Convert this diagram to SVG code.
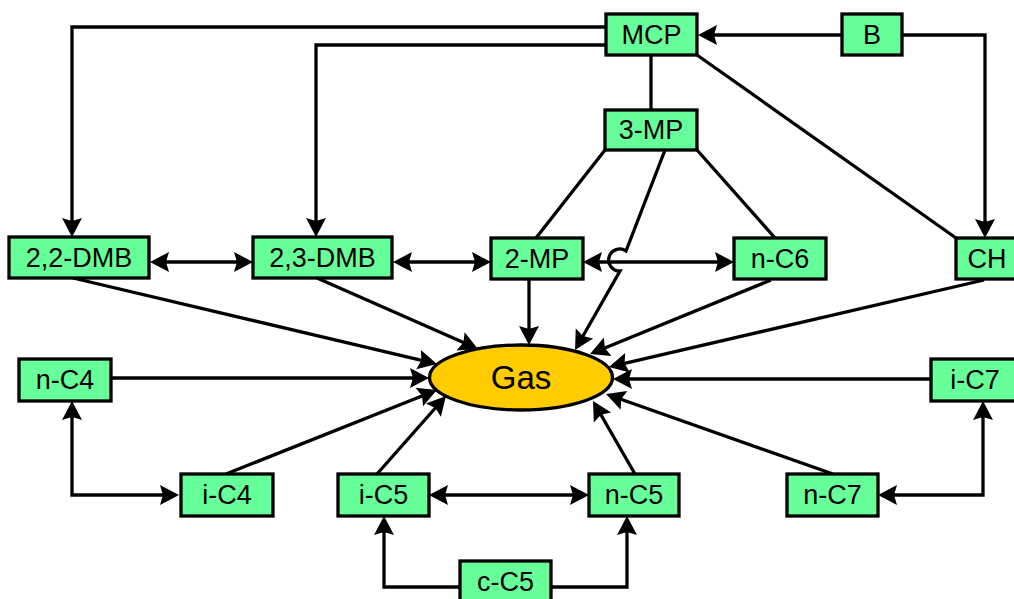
<svg xmlns="http://www.w3.org/2000/svg" width="1014" height="599" viewBox="0 0 1014 599">
<style>
.node rect{fill:#66FF99;stroke:#000;stroke-width:3.3}
.gas ellipse{fill:#FFCC00;stroke:#000;stroke-width:3.3}
text{font-family:"Liberation Sans",Arial,sans-serif;font-size:27px;text-anchor:middle;fill:#000}
.gas text{font-size:33px}
.c path{fill:none;stroke:#000;stroke-width:3.3}
.c .a{marker-end:url(#ah)}
.c .aa{marker-start:url(#ah);marker-end:url(#ah)}
</style>
<defs>
<marker id="ah" viewBox="-14 -11 21 22" refX="0" refY="0" markerWidth="21" markerHeight="22" markerUnits="userSpaceOnUse" orient="auto-start-reverse">
<path d="M6,0 L-13,-10 L-10,0 L-13,10 Z" fill="#000"/>
</marker>
</defs>
<rect width="1014" height="599" fill="#fff"/>
<g id="connectors" class="c">
<path class="a" d="M842,35 H704"/>
<path class="a" d="M902,35 H985 V232"/>
<path class="a" d="M606,27 H72 V231"/>
<path class="a" d="M606,45 H316 V231"/>
<path d="M651,55 V110"/>
<path d="M697,55 L956,238"/>
<path d="M605,150 L536,238"/>
<path d="M697,150 L775,238"/>
<path class="a" d="M665,150 L626,251 A11,11 0 1,0 620,271 L578,344.8"/>
<path class="aa" d="M156,262 H247"/>
<path class="aa" d="M399,262 H485"/>
<path class="aa" d="M589,262 H728"/>
<path class="a" d="M529,280 V339"/>
<path class="a" d="M73,278 L431.2,362.6"/>
<path class="a" d="M317,278 L472.5,346.6"/>
<path class="a" d="M771,280 L595.6,351.7"/>
<path class="a" d="M984,280 L614.8,365.6"/>
<path class="a" d="M111,378 H423"/>
<path class="a" d="M931,379 H619"/>
<path class="a" d="M226,474 L431.4,392.2"/>
<path class="a" d="M377,474 L442,400.5"/>
<path class="a" d="M635,474 L596,406.2"/>
<path class="a" d="M833,474 L611.7,396"/>
<path class="aa" d="M72,407 V495 H173"/>
<path class="aa" d="M435,495 H583"/>
<path class="a" d="M460,587 H384 V522"/>
<path class="a" d="M551,587 H627 V522"/>
<path class="aa" d="M884,495 H983 V407"/>
</g>
<g id="MCP" class="node"><rect x="606" y="14" width="91" height="41"/><text x="651.5" y="43.5">MCP</text></g>
<g id="B" class="node"><rect x="842" y="14" width="60" height="41"/><text x="872" y="43.5">B</text></g>
<g id="3-MP" class="node"><rect x="605" y="110" width="92" height="40"/><text x="651" y="139">3-MP</text></g>
<g id="2,2-DMB" class="node"><rect x="9" y="237" width="140" height="41"/><text x="79" y="266.5">2,2-DMB</text></g>
<g id="2,3-DMB" class="node"><rect x="253" y="237" width="139" height="41"/><text x="322.5" y="266.5">2,3-DMB</text></g>
<g id="2-MP" class="node"><rect x="491" y="238" width="92" height="41"/><text x="537" y="267.5">2-MP</text></g>
<g id="n-C6" class="node"><rect x="734" y="238" width="92" height="41"/><text x="780" y="267.5">n-C6</text></g>
<g id="CH" class="node"><rect x="956" y="238" width="62" height="41"/><text x="987" y="267.5">CH</text></g>
<g id="n-C4" class="node"><rect x="19" y="359" width="92" height="42"/><text x="65" y="389">n-C4</text></g>
<g id="i-C7" class="node"><rect x="931" y="359" width="88" height="42"/><text x="975" y="389">i-C7</text></g>
<g id="Gas" class="gas"><ellipse cx="521" cy="377.5" rx="91.5" ry="32.5"/><text x="521" y="389">Gas</text></g>
<g id="i-C4" class="node"><rect x="181" y="474" width="92" height="42"/><text x="227" y="504">i-C4</text></g>
<g id="i-C5" class="node"><rect x="338" y="474" width="91" height="42"/><text x="383.5" y="504">i-C5</text></g>
<g id="n-C5" class="node"><rect x="589" y="474" width="90" height="42"/><text x="634" y="504">n-C5</text></g>
<g id="n-C7" class="node"><rect x="787" y="474" width="91" height="42"/><text x="832.5" y="504">n-C7</text></g>
<g id="c-C5" class="node"><rect x="460" y="561" width="91" height="42"/><text x="505.5" y="591">c-C5</text></g>
</svg>
